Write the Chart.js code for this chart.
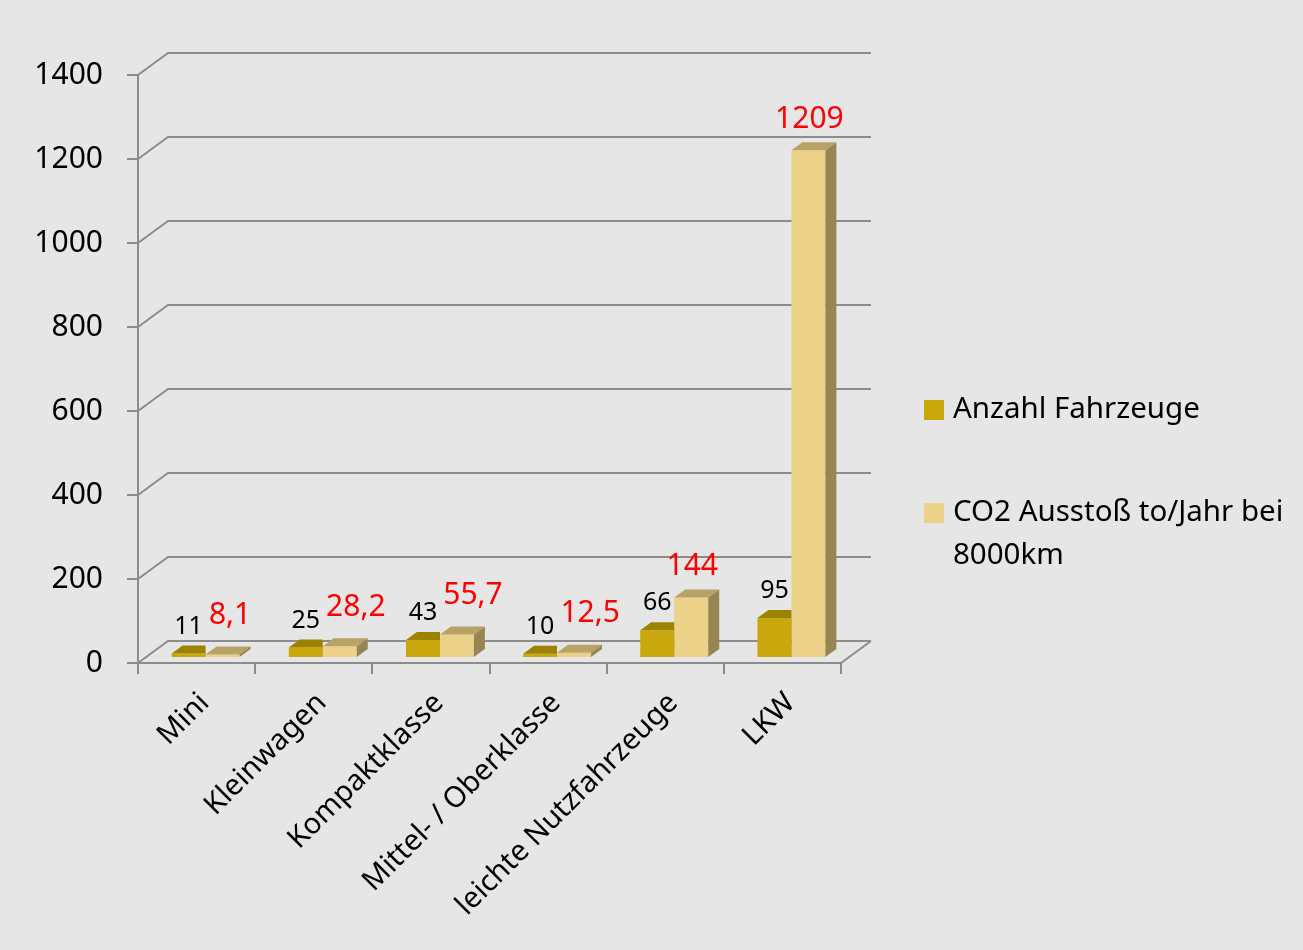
<!DOCTYPE html>
<html>
<head>
<meta charset="utf-8">
<script src="https://cdn.jsdelivr.net/npm/chart.js@4"></script>
<style>
    html, body { margin: 0; padding: 0; background: #e6e6e6; }
    #wrap { width: 1303px; height: 950px; }
</style>
</head>
<body>
<div id="wrap"><canvas id="co2Chart"></canvas></div>
<script>
// Data
const categories = ['Mini', 'Kleinwagen', 'Kompaktklasse', 'Mittel- / Oberklasse', 'leichte Nutzfahrzeuge', 'LKW'];
const anzahlFahrzeuge = [11, 25, 43, 10, 66, 95];
const co2Ausstoss = [8.1, 28.2, 55.7, 12.5, 144, 1209];
const yTicks = [0, 200, 400, 600, 800, 1000, 1200, 1400];
const seriesNames = ['Anzahl Fahrzeuge', ['CO2 Ausstoß to/Jahr bei', '8000km']];

const gridColor = '#8c8c8c';
const fontFamily = '"Noto Sans", "Open Sans", sans-serif';
const wall = { dx: 30, dy: -22 };      // offset of the back wall
const shift = { dx: 9, dy: -5 };       // bars sit a bit inside the floor
const bar3d = { dx: 11, dy: -8 };      // depth of each bar
const faces = [
    { front: '#c8a80c', top: '#9c8200', side: '#8a7300' },
    { front: '#ecd188', top: '#b8a367', side: '#978654' }
];

function fmt(v) {
    return String(v).replace('.', ',');
}

// 3D look: back wall, floor, bar tops and sides, value labels, legend
const pseudo3d = {
    id: 'pseudo3d',
    beforeDatasetsDraw(chart) {
        const ctx = chart.ctx, a = chart.chartArea, y = chart.scales.y;
        ctx.save();
        ctx.strokeStyle = gridColor;
        ctx.lineWidth = 2;
        y.ticks.forEach(t => {
            const py = y.getPixelForValue(t.value);
            ctx.beginPath();
            ctx.moveTo(a.left, py);
            ctx.lineTo(a.left + wall.dx, py + wall.dy);
            ctx.lineTo(a.right + wall.dx, py + wall.dy);
            ctx.stroke();
        });
        ctx.beginPath();
        ctx.moveTo(a.right, a.bottom);
        ctx.lineTo(a.right + wall.dx, a.bottom + wall.dy);
        ctx.stroke();
        ctx.restore();

        ctx.save();
        ctx.translate(shift.dx, shift.dy);
    },
    afterDatasetDraw(chart, args) {
        const ctx = chart.ctx;
        const f = faces[args.index];
        args.meta.data.forEach(el => {
            const p = el.getProps(['x', 'y', 'base', 'width'], true);
            const l = p.x - p.width / 2, r = p.x + p.width / 2, t = p.y;
            ctx.save();
            if (args.index === 0) {
                ctx.beginPath();
                ctx.rect(l - 2, 0, r - l + 2, chart.height);
                ctx.clip();
            }
            ctx.fillStyle = f.top;
            ctx.beginPath();
            ctx.moveTo(l, t);
            ctx.lineTo(r, t);
            ctx.lineTo(r + bar3d.dx, t + bar3d.dy);
            ctx.lineTo(l + bar3d.dx, t + bar3d.dy);
            ctx.closePath();
            ctx.fill();
            ctx.fillStyle = f.side;
            ctx.beginPath();
            ctx.moveTo(r, t);
            ctx.lineTo(r + bar3d.dx, t + bar3d.dy);
            ctx.lineTo(r + bar3d.dx, p.base + bar3d.dy);
            ctx.lineTo(r, p.base);
            ctx.closePath();
            ctx.fill();
            ctx.restore();
        });
    },
    afterDatasetsDraw(chart) {
        const ctx = chart.ctx;
        ctx.restore();

        ctx.save();
        ctx.textAlign = 'center';
        ctx.textBaseline = 'middle';
        const dark = chart.getDatasetMeta(0).data;
        const light = chart.getDatasetMeta(1).data;
        dark.forEach((el, i) => {
            const txt = fmt(anzahlFahrzeuge[i]);
            ctx.font = '25px ' + fontFamily;
            const w = ctx.measureText(txt).width;
            const bx = el.x + shift.dx, by = el.y + shift.dy - 27;
            ctx.fillStyle = '#000';
            ctx.fillText(txt, bx, by);

            // red label above the light bar, pushed right/up if it hits the black one
            const l = light[i];
            const rt = fmt(co2Ausstoss[i]);
            ctx.font = '30px ' + fontFamily;
            const rw = ctx.measureText(rt).width;
            let rx = l.x + shift.dx + 1;
            let ry = l.y + shift.dy - 31;
            const blackRight = bx + w / 2;
            if (Math.abs(ry - by) < 28 && rx - rw / 2 < blackRight + 4) {
                rx = blackRight + 6 + rw / 2;
                ry -= 8;
            }
            ctx.fillStyle = '#ff0000';
            ctx.fillText(rt, rx, ry);
        });
        ctx.restore();
    },
    afterDraw(chart) {
        const ctx = chart.ctx, a = chart.chartArea;
        const lx = a.right + 83;
        const rows = [410, 513];
        ctx.save();
        ctx.font = '29.5px ' + fontFamily;
        ctx.textAlign = 'left';
        ctx.textBaseline = 'middle';
        seriesNames.forEach((name, i) => {
            ctx.fillStyle = faces[i].front;
            ctx.fillRect(lx, rows[i] - 10, 20, 20);
            ctx.fillStyle = '#000';
            [].concat(name).forEach((line, k) => {
                ctx.fillText(line, lx + 29, rows[i] + k * 43);
            });
        });
        ctx.restore();
    }
};

const ctx = document.getElementById('co2Chart').getContext('2d');
new Chart(ctx, {
    type: 'bar',
    data: {
        labels: categories,
        datasets: [
            {
                label: 'Anzahl Fahrzeuge',
                data: anzahlFahrzeuge,
                backgroundColor: faces[0].front,
                barPercentage: 1,
                categoryPercentage: 0.58,
                clip: false
            },
            {
                label: 'CO2 Ausstoß to/Jahr bei 8000km',
                data: co2Ausstoss,
                backgroundColor: faces[1].front,
                barPercentage: 1,
                categoryPercentage: 0.58,
                clip: false
            }
        ]
    },
    options: {
        responsive: true,
        maintainAspectRatio: false,
        animation: false,
        layout: { padding: { top: 75, right: 462, bottom: 0, left: 0 } },
        plugins: {
            legend: { display: false },
            tooltip: { enabled: false }
        },
        scales: {
            x: {
                grid: { drawOnChartArea: false, tickLength: 11, color: gridColor, lineWidth: 2, offset: true },
                border: { color: gridColor, width: 2 },
                ticks: {
                    autoSkip: false,
                    maxRotation: 45,
                    minRotation: 45,
                    labelOffset: 8,
                    padding: 12,
                    color: '#000',
                    font: { family: fontFamily, size: 29 }
                },
                afterFit(scale) { scale.height = 287; }
            },
            y: {
                min: 0,
                max: 1400,
                afterBuildTicks(scale) { scale.ticks = yTicks.map(v => ({ value: v })); },
                grid: { drawOnChartArea: false, tickLength: 11, color: gridColor, lineWidth: 2 },
                border: { color: gridColor, width: 2 },
                ticks: {
                    padding: 24,
                    color: '#000',
                    font: { family: fontFamily, size: 30 },
                    callback: v => String(v)
                },
                afterFit(scale) { scale.width = 138; }
            }
        }
    },
    plugins: [pseudo3d]
});
</script>
</body>
</html>
